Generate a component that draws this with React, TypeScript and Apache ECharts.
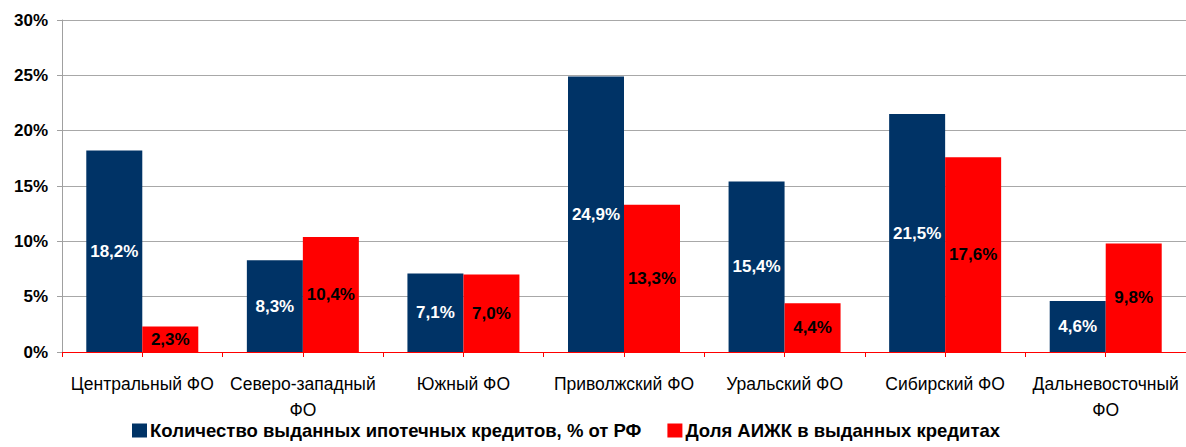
import React, { useEffect, useRef } from "react";
import * as echarts from "echarts";

const categories = [
  "Центральный ФО",
  "Северо-западный ФО",
  "Южный ФО",
  "Приволжский ФО",
  "Уральский ФО",
  "Сибирский ФО",
  "Дальневосточный ФО",
];
const seriesNames = [
  "Количество выданных ипотечных кредитов, % от РФ",
  "Доля АИЖК в выданных кредитах",
];
const loansShare = [18.2, 8.3, 7.1, 24.9, 15.4, 21.5, 4.6];
const aijkShare = [2.3, 10.4, 7.0, 13.3, 4.4, 17.6, 9.8];
const yTicks = [0, 5, 10, 15, 20, 25, 30];

const FONT = "'Liberation Sans', Arial, sans-serif";
const fmt = (v: number) => v.toFixed(1).replace(".", ",") + "%";
const wrapLabel = (name: string) => (name.length > 15 ? name.replace(" ФО", "\nФО") : name);

export default function App() {
  const ref = useRef<HTMLDivElement>(null);
  useEffect(() => {
    if (!ref.current) return;
    const chart = echarts.init(ref.current, null, { renderer: "svg" });
    const halfTicks = categories.flatMap(() => ["", ""]);
    const barLabel = (color: string) => ({
      show: true,
      position: "inside",
      color,
      fontSize: 17,
      fontWeight: "bold",
      fontFamily: FONT,
      formatter: (p: any) => fmt(p.value),
    });
    chart.setOption({
      animation: false,
      textStyle: { fontFamily: FONT },
      grid: { left: 62, right: 0, top: 20, bottom: 95, containLabel: false },
      legend: {
        bottom: 2,
        left: 127,
        itemWidth: 15,
        itemHeight: 14,
        itemGap: 26,
        icon: "rect",
        textStyle: { fontFamily: FONT, fontSize: 18.5, fontWeight: "bold", color: "#000", padding: [0, 0, 0, -2] },
        data: seriesNames,
      },
      xAxis: [
        {
          type: "category",
          data: categories,
          boundaryGap: true,
          axisLine: { show: true, lineStyle: { color: "#FF0000", width: 1 } },
          axisTick: { show: false },
          axisLabel: {
            color: "#000",
            fontSize: 17.5,
            fontFamily: FONT,
            margin: 19,
            lineHeight: 26,
            interval: 0,
            formatter: wrapLabel,
          },
          splitLine: { show: false },
        },
        {
          type: "category",
          data: halfTicks,
          position: "bottom",
          boundaryGap: true,
          axisLine: { show: true, lineStyle: { color: "#FF0000", width: 1 } },
          axisTick: { show: true, length: 5, interval: 0, lineStyle: { color: "#FF0000" } },
          axisLabel: { show: false },
          splitLine: { show: false },
        },
      ],
      yAxis: {
        type: "value",
        min: yTicks[0],
        max: yTicks[yTicks.length - 1],
        interval: yTicks[1] - yTicks[0],
        axisLine: { show: true, lineStyle: { color: "#A0A0A0" } },
        axisTick: { show: true, length: 5, lineStyle: { color: "#A0A0A0" } },
        axisLabel: {
          color: "#000",
          fontSize: 17,
          fontWeight: "bold",
          fontFamily: FONT,
          margin: 14,
          formatter: (v: number) => v + "%",
        },
        splitLine: { show: true, lineStyle: { color: "#A8A8A8", width: 1 } },
      },
      series: [
        {
          name: seriesNames[0],
          type: "bar",
          xAxisIndex: 0,
          data: loansShare,
          barWidth: 56,
          barGap: "0%",
          itemStyle: { color: "#003366" },
          label: barLabel("#FFFFFF"),
        },
        {
          name: seriesNames[1],
          type: "bar",
          xAxisIndex: 0,
          data: aijkShare,
          barWidth: 56,
          barGap: "0%",
          itemStyle: { color: "#FF0000" },
          label: barLabel("#000000"),
        },
      ],
    });
    return () => chart.dispose();
  }, []);
  return (
    <div
      ref={ref}
      style={{ position: "fixed", left: 0, top: 0, width: 1186, height: 447, background: "#fff" }}
    />
  );
}
